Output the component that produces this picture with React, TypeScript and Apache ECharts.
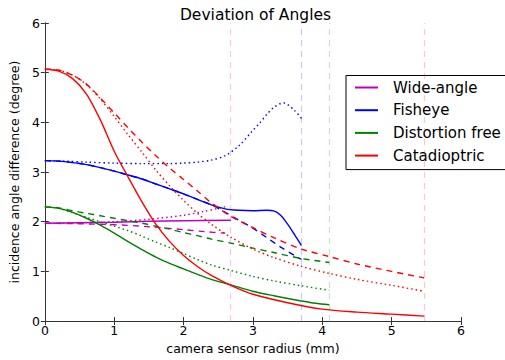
import React, { useEffect, useRef } from "react";
import * as echarts from "echarts";

// ---- Data ----
const legendNames = ["Wide-angle", "Fisheye", "Distortion free", "Catadioptric"];
const colors = ["#bf00bf", "#0000ff", "#008000", "#ff0000"];

const xTickLabels = ["0", "1", "2", "3", "4", "5", "6"];
const yTickLabels = ["0", "1", "2", "3", "4", "5", "6"];

// Wide-angle
const wideSolidX = [0, 0.5, 1.0, 1.5, 2.0, 2.68];
const wideSolidY = [1.97, 1.98, 1.99, 2.01, 2.02, 2.03];
const wideDashedX = [0, 0.5, 1.0, 1.5, 2.0, 2.3, 2.6];
const wideDashedY = [1.97, 1.96, 1.94, 1.9, 1.84, 1.8, 1.77];
const wideDottedX = [0, 0.5, 1.0, 1.5, 2.0, 2.3, 2.6];
const wideDottedY = [1.97, 1.98, 2.0, 2.05, 2.13, 2.21, 2.3];

// Fisheye
const fishSolidX = [0, 0.2, 0.4, 0.6, 0.8, 1.0, 1.2, 1.4, 1.6, 1.8, 2.0, 2.2, 2.4, 2.6, 2.8, 3.0, 3.2, 3.3, 3.4, 3.5, 3.6, 3.7];
const fishSolidY = [3.23, 3.22, 3.19, 3.15, 3.09, 3.02, 2.94, 2.86, 2.76, 2.66, 2.56, 2.45, 2.34, 2.26, 2.23, 2.22, 2.23, 2.22, 2.13, 1.95, 1.74, 1.52];
const fishDashedX = [0, 0.2, 0.4, 0.6, 0.8, 1.0, 1.2, 1.4, 1.6, 1.8, 2.0, 2.2, 2.4, 2.6, 2.8, 3.0, 3.2, 3.4, 3.6, 3.7];
const fishDashedY = [3.23, 3.22, 3.19, 3.15, 3.09, 3.02, 2.94, 2.86, 2.76, 2.66, 2.56, 2.45, 2.34, 2.19, 2.03, 1.87, 1.68, 1.49, 1.32, 1.24];
const fishDottedX = [0, 0.3, 0.6, 1.0, 1.4, 1.8, 2.0, 2.2, 2.4, 2.6, 2.8, 3.0, 3.1, 3.2, 3.3, 3.4, 3.45, 3.5, 3.6, 3.7];
const fishDottedY = [3.23, 3.22, 3.2, 3.18, 3.17, 3.17, 3.18, 3.2, 3.24, 3.33, 3.53, 3.84, 3.99, 4.16, 4.3, 4.38, 4.39, 4.36, 4.24, 4.08];

// Distortion free
const distSolidX = [0, 0.2, 0.4, 0.6, 0.8, 1.0, 1.2, 1.4, 1.6, 1.8, 2.0, 2.2, 2.4, 2.68, 3.0, 3.3, 3.6, 3.9, 4.1];
const distSolidY = [2.3, 2.27, 2.19, 2.07, 1.93, 1.77, 1.6, 1.44, 1.29, 1.16, 1.05, 0.94, 0.84, 0.73, 0.6, 0.51, 0.43, 0.36, 0.33];
const distDashedX = [0, 0.2, 0.4, 0.6, 0.8, 1.0, 1.2, 1.4, 1.6, 1.8, 2.0, 2.2, 2.4, 2.68, 3.0, 3.3, 3.7, 4.1];
const distDashedY = [2.3, 2.28, 2.22, 2.17, 2.12, 2.07, 2.02, 1.97, 1.91, 1.85, 1.78, 1.72, 1.65, 1.57, 1.47, 1.38, 1.26, 1.18];
const distDottedX = [0, 0.2, 0.4, 0.6, 0.8, 1.0, 1.2, 1.4, 1.6, 1.8, 2.0, 2.2, 2.4, 2.68, 3.0, 3.3, 3.7, 4.1];
const distDottedY = [2.3, 2.27, 2.18, 2.09, 2.0, 1.91, 1.82, 1.71, 1.59, 1.48, 1.36, 1.24, 1.13, 1.02, 0.9, 0.81, 0.71, 0.62];

// Catadioptric
const cataSolidX = [0, 0.2, 0.4, 0.6, 0.8, 1.0, 1.2, 1.4, 1.6, 1.8, 2.0, 2.2, 2.4, 2.68, 3.0, 3.5, 4.0, 4.5, 5.0, 5.47];
const cataSolidY = [5.07, 5.03, 4.88, 4.57, 4.05, 3.42, 2.9, 2.4, 1.95, 1.6, 1.32, 1.1, 0.92, 0.72, 0.54, 0.37, 0.24, 0.18, 0.14, 0.1];
const cataDashedX = [0, 0.2, 0.4, 0.6, 0.8, 1.0, 1.2, 1.4, 1.6, 1.8, 2.0, 2.2, 2.4, 2.68, 3.0, 3.3, 3.7, 4.1, 4.5, 5.0, 5.47];
const cataDashedY = [5.07, 5.05, 4.95, 4.77, 4.49, 4.19, 3.89, 3.6, 3.33, 3.08, 2.85, 2.62, 2.38, 2.11, 1.88, 1.68, 1.45, 1.3, 1.15, 1.0, 0.87];
const cataDottedX = [0, 0.2, 0.4, 0.6, 0.8, 1.0, 1.2, 1.4, 1.6, 1.8, 2.0, 2.2, 2.4, 2.68, 3.0, 3.3, 3.7, 4.1, 4.5, 5.0, 5.47];
const cataDottedY = [5.07, 5.05, 4.95, 4.76, 4.47, 4.12, 3.75, 3.4, 3.04, 2.72, 2.43, 2.17, 1.95, 1.69, 1.45, 1.28, 1.1, 0.96, 0.84, 0.72, 0.6];

// Vertical limit lines (max sensor radius per camera)
const vlineX = [2.68, 3.7, 4.1, 5.47];

const FONT = "DejaVu Sans";
const DASH = [6, 5];
const DOT = [1.5, 3];

function pairs(xs: number[], ys: number[]) {
  return xs.map((x, i) => [x, ys[i]]);
}

export default function App() {
  const ref = useRef<HTMLDivElement>(null);
  useEffect(() => {
    if (!ref.current) return;
    const chart = echarts.init(ref.current, undefined, { renderer: "svg" });

    const groups = [
      [wideSolidX, wideSolidY, wideDashedX, wideDashedY, wideDottedX, wideDottedY],
      [fishSolidX, fishSolidY, fishDashedX, fishDashedY, fishDottedX, fishDottedY],
      [distSolidX, distSolidY, distDashedX, distDashedY, distDottedX, distDottedY],
      [cataSolidX, cataSolidY, cataDashedX, cataDashedY, cataDottedX, cataDottedY],
    ];

    const series: any[] = [];
    // vertical pale dashed lines
    series.push({
      type: "line",
      name: "limits",
      data: [],
      silent: true,
      markLine: {
        symbol: "none",
        silent: true,
        label: { show: false },
        data: vlineX.map((vx, i) => ({
          xAxis: vx,
          lineStyle: { color: colors[i], opacity: 0.22, width: 1.2, type: DASH },
        })),
      },
    });

    groups.forEach((g, i) => {
      const base = {
        type: "line",
        showSymbol: false,
        symbol: "none",
        smooth: 0.3,
        silent: true,
        color: colors[i],
      };
      series.push({ ...base, name: legendNames[i], data: pairs(g[0], g[1]), lineStyle: { width: 1.4, color: colors[i] } });
      series.push({ ...base, name: legendNames[i] + " (dashed)", data: pairs(g[2], g[3]), lineStyle: { width: 1.4, color: colors[i], type: DASH } });
      series.push({ ...base, name: legendNames[i] + " (dotted)", data: pairs(g[4], g[5]), lineStyle: { width: 1.4, color: colors[i], type: DOT } });
    });

    const axisCommon = {
      type: "value",
      min: 0,
      max: 6,
      interval: 1,
      splitLine: { show: false },
      axisLine: { show: true, lineStyle: { color: "#333", width: 1 } },
      axisTick: { show: true, inside: true, length: 4, lineStyle: { color: "#333" } },
    };

    chart.setOption({
      animation: false,
      backgroundColor: "#fff",
      title: {
        text: "Deviation of Angles",
        left: 250.5,
        textAlign: "center",
        top: 2,
        textStyle: { fontFamily: FONT, fontSize: 15.5, fontWeight: "normal", color: "#000" },
      },
      legend: {
        data: legendNames,
        orient: "vertical",
        left: 346,
        top: 75.5,
        icon: "rect",
        itemWidth: 23,
        itemHeight: 2,
        itemGap: 6.7,
        padding: [4, 12, 6, 9],
        backgroundColor: "#fff",
        borderColor: "#000",
        borderWidth: 1,
        borderRadius: 0,
        textStyle: { fontFamily: FONT, fontSize: 15, color: "#000", lineHeight: 16, padding: [0, 0, 0, 10] },
      },
      grid: { left: 40, top: 23, right: 44, bottom: 36.5, containLabel: false },
      xAxis: [
        {
          ...axisCommon,
          position: "bottom",
          name: "camera sensor radius (mm)",
          nameLocation: "middle",
          nameGap: 18,
          nameTextStyle: { fontFamily: FONT, fontSize: 12.5, color: "#000" },
          axisLabel: {
            fontFamily: FONT,
            fontSize: 12.5,
            color: "#000",
            margin: 3,
            formatter: (v: number) => xTickLabels[Math.round(v)] ?? "",
          },
        },
        { ...axisCommon, position: "top", axisLabel: { show: false } },
      ],
      yAxis: [
        {
          ...axisCommon,
          position: "left",
          name: "incidence angle difference (degree)",
          nameLocation: "middle",
          nameGap: 17,
          nameTextStyle: { fontFamily: FONT, fontSize: 12.5, color: "#000" },
          axisLabel: {
            fontFamily: FONT,
            fontSize: 12.5,
            color: "#000",
            margin: 5,
            formatter: (v: number) => yTickLabels[Math.round(v)] ?? "",
          },
        },
        { ...axisCommon, position: "right", axisLabel: { show: false } },
      ],
      series,
    });

    return () => chart.dispose();
  }, []);

  return (
    <div
      ref={ref}
      style={{ position: "absolute", left: 0, top: 0, width: 505, height: 360 }}
    />
  );
}
